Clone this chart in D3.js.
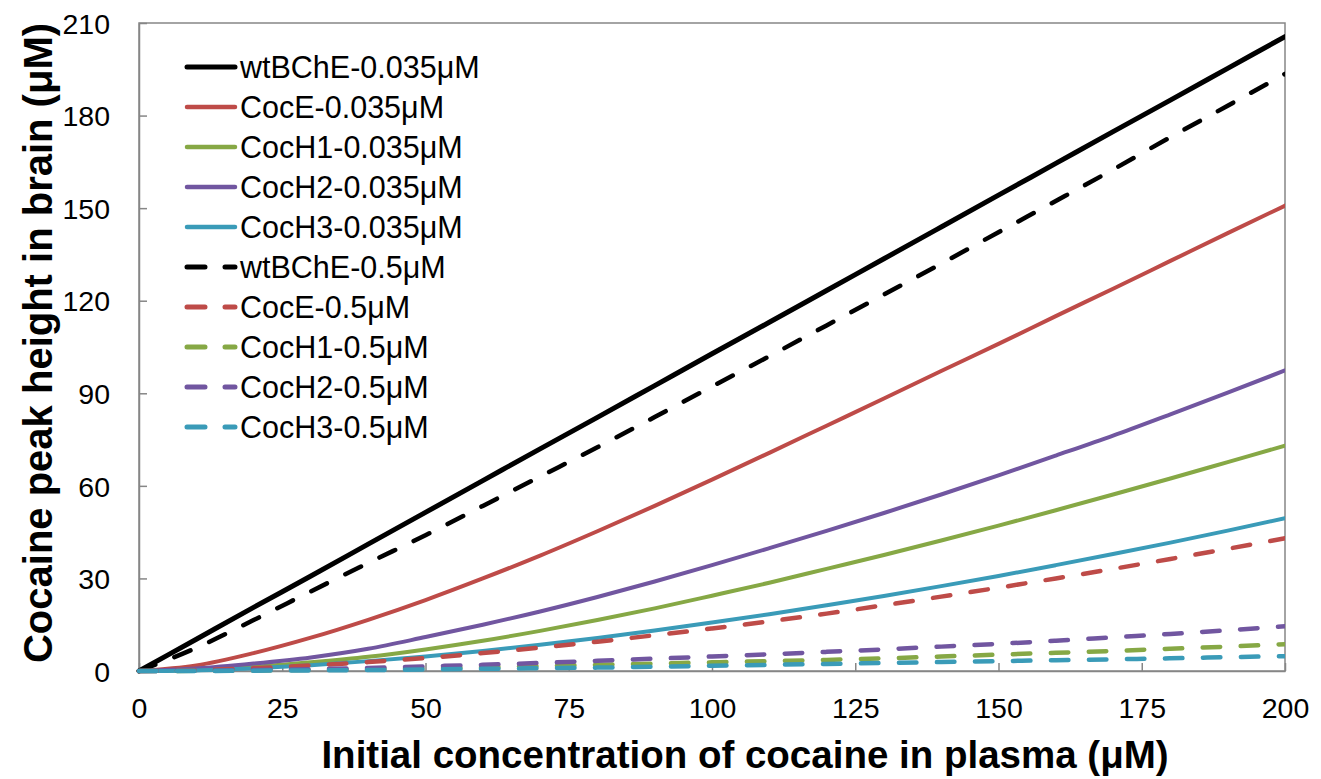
<!DOCTYPE html>
<html>
<head>
<meta charset="utf-8">
<script src="https://cdn.jsdelivr.net/npm/d3@7"></script>
<style>
  html, body { margin: 0; padding: 0; background: #fff; }
  svg { display: block; font-family: Arial, "Liberation Sans", sans-serif; }
</style>
</head>
<body>
<svg id="chart" width="1321" height="779"></svg>
<script>
// ---------- data ----------
const xValues = [0,10,20,30,40,50,60,70,80,90,100,110,120,130,140,150,160,170,180,190,200];

const wtBChE_035 = [0,10.3,20.6,30.8,41.1,51.4,61.7,72,82.2,92.5,102.8,113,123.3,133.6,143.9,154.2,164.5,174.8,185,195.3,205.6];
const CocE_035   = [0,1.8,5.8,10.8,16.6,23,30,37.4,45.3,53.5,62,70.7,79.5,88.3,97.2,106,115,123.9,132.9,141.9,150.8];
const CocH1_035  = [0,0.4,1.3,2.8,4.6,7,9.8,13,16.5,20.3,24.4,28.6,33.1,37.6,42.3,47.1,52.1,57.2,62.4,67.7,73];
const CocH2_035  = [0,0.8,2.4,4.4,7.2,11,15,19.3,24,29,34.3,39.8,45.4,51.2,57.2,63.4,69.8,76.3,83.2,90.2,97.4];
const CocH3_035  = [0,0.2,0.9,1.9,3.2,4.7,6.5,8.5,10.7,13.1,15.7,18.4,21.3,24.3,27.5,30.8,34.3,37.9,41.6,45.5,49.5];
const wtBChE_05  = [0,7.5,16.5,25.8,35,44,53.5,63,72.5,82.3,92.2,102,112,122,132,142.2,152.3,162.5,173,183.2,193.5];
const CocE_05    = [0,0.3,0.9,1.8,2.9,4.2,5.8,7.6,9.5,11.6,13.8,16.1,18.6,21.3,24.1,27,30,33.1,36.3,39.6,43];
const CocH1_05   = [0,0.05,0.2,0.4,0.6,0.9,1.2,1.6,2,2.4,2.8,3.2,3.6,4.1,4.7,5.3,5.9,6.5,7.2,7.9,8.7];
const CocH2_05   = [0,0.1,0.3,0.6,1,1.5,2,2.6,3.3,4,4.7,5.4,6.2,7,7.9,8.8,9.8,10.9,12,13.2,14.5];
const CocH3_05   = [0,0,0.1,0.2,0.3,0.5,0.7,0.9,1.1,1.4,1.7,2,2.3,2.6,2.9,3.2,3.5,3.8,4.1,4.5,4.8];

const seriesNames = ["wtBChE-0.035μM","CocE-0.035μM","CocH1-0.035μM","CocH2-0.035μM","CocH3-0.035μM",
                     "wtBChE-0.5μM","CocE-0.5μM","CocH1-0.5μM","CocH2-0.5μM","CocH3-0.5μM"];
const seriesValues = [wtBChE_035, CocE_035, CocH1_035, CocH2_035, CocH3_035,
                      wtBChE_05, CocE_05, CocH1_05, CocH2_05, CocH3_05];
const seriesColors = ["#000000","#be4b48","#86a845","#7156a0","#3a9bb8",
                      "#000000","#be4b48","#86a845","#7156a0","#3a9bb8"];
const seriesDashed = [false,false,false,false,false,true,true,true,true,true];

const xTicks = [0,25,50,75,100,125,150,175,200];
const yTicks = [0,30,60,90,120,150,180,210];

const xTitle = "Initial concentration of cocaine in plasma (μM)";
const yTitle = "Cocaine peak height in brain (μM)";

// ---------- layout ----------
const svg = d3.select("#chart");
const pL = 139, pR = 1285, pT = 23, pB = 671;

const x = d3.scaleLinear().domain([0, 200]).range([pL, pR]);
const y = d3.scaleLinear().domain([0, 210]).range([pB, pT]);

const axisColor = "#868686";

// frame
svg.append("rect")
  .attr("x", pL).attr("y", pT)
  .attr("width", pR - pL).attr("height", pB - pT)
  .attr("fill", "none").attr("stroke", axisColor).attr("stroke-width", 1.5);

// axes (ticks inward)
const xAxis = svg.append("g").attr("transform", `translate(0,${pB})`)
  .call(d3.axisBottom(x).tickValues(xTicks).tickSizeInner(-8).tickSizeOuter(0).tickPadding(27)
        .tickFormat(d3.format("d")));
const yAxis = svg.append("g").attr("transform", `translate(${pL},0)`)
  .call(d3.axisLeft(y).tickValues(yTicks).tickSizeInner(-8).tickSizeOuter(0).tickPadding(29)
        .tickFormat(d3.format("d")));
[xAxis, yAxis].forEach(g => {
  g.select(".domain").attr("stroke", axisColor).attr("stroke-width", 1.5);
  g.selectAll(".tick line").attr("stroke", axisColor).attr("stroke-width", 1.5);
  g.selectAll(".tick text").attr("fill", "#000").attr("font-size", 28.5)
    .attr("font-family", "Arial, 'Liberation Sans', sans-serif");
});
yAxis.selectAll(".tick text").attr("dy", "0.36em");

// lines
const line = d3.line().x((d, i) => x(xValues[i])).y(d => y(d)).curve(d3.curveMonotoneX);

svg.append("clipPath").attr("id", "plotclip")
  .append("rect").attr("x", pL - 3).attr("y", pT).attr("width", pR - pL + 3).attr("height", pB - pT + 4);

const plot = svg.append("g").attr("clip-path", "url(#plotclip)");
seriesValues.forEach((vals, i) => {
  const isBlack = seriesColors[i] === "#000000";
  plot.append("path")
    .attr("d", line(vals))
    .attr("fill", "none")
    .attr("stroke", seriesColors[i])
    .attr("stroke-width", seriesDashed[i] ? 4.5 : (isBlack ? 5 : 4))
    .attr("stroke-linecap", "round")
    .attr("stroke-linejoin", "round")
    .attr("stroke-dasharray", seriesDashed[i] ? "17.5,20.5" : null);
});

// legend
const legend = svg.append("g");
seriesNames.forEach((name, i) => {
  const ly = 67 + i * 40;
  legend.append("line")
    .attr("x1", 187).attr("x2", 235).attr("y1", ly).attr("y2", ly)
    .attr("stroke", seriesColors[i])
    .attr("stroke-width", seriesDashed[i] ? 5 : (seriesColors[i] === "#000000" ? 5 : 4.5))
    .attr("stroke-linecap", "round")
    .attr("stroke-dasharray", seriesDashed[i] ? "18,20" : null);
  legend.append("text")
    .attr("x", 240).attr("y", ly).attr("dy", "0.35em")
    .attr("font-size", 30.5).attr("fill", "#000")
    .text(name);
});

// titles
svg.append("text")
  .attr("x", 745).attr("y", 768)
  .attr("text-anchor", "middle")
  .attr("font-size", 38.5).attr("font-weight", "bold").attr("fill", "#000")
  .text(xTitle);

svg.append("text")
  .attr("transform", `translate(52,${343}) rotate(-90)`)
  .attr("text-anchor", "middle")
  .attr("font-size", 40).attr("font-weight", "bold").attr("fill", "#000")
  .text(yTitle);
</script>
</body>
</html>
